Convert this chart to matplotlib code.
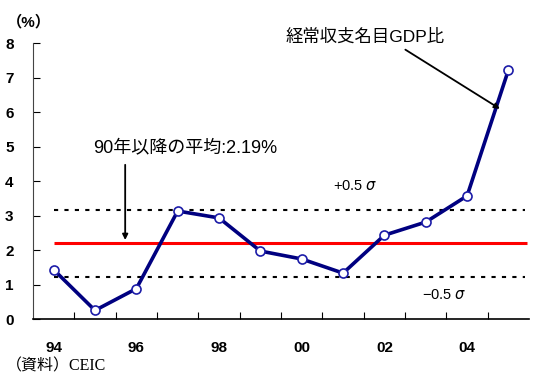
import matplotlib.pyplot as plt
import numpy as np

plt.rcParams['font.family'] = ['Liberation Sans', 'Noto Sans CJK JP', 'DejaVu Sans']

years = ['94', '95', '96', '97', '98', '99', '00', '01', '02', '03', '04', '05']
ratio = [1.43, 0.25, 0.88, 3.13, 2.93, 1.97, 1.74, 1.33, 2.43, 2.81, 3.57, 7.22]
mean = 2.19
half_sigma = 0.97

fig = plt.figure(figsize=(5.47, 3.74), dpi=100)
ax = fig.add_axes([0.0603, 0.147, 0.907, 0.738])

x = np.arange(len(years))

ax.hlines(mean, 0, 11.45, color='#ff0000', lw=2.2, zorder=2)
ax.hlines([mean + half_sigma, mean - half_sigma], 0, 11.4, color='black',
          lw=1.5, linestyles=(0, (2, 3)), zorder=2)

ax.plot(x, ratio, color='#000080', lw=2.6, marker='o', ms=6.5,
        mfc='white', mec='#1c1ca8', mew=1.2, zorder=3)

ax.set_xlim(-0.5, 11.5)
ax.set_ylim(0, 8)
ax.spines['top'].set_visible(False)
ax.spines['right'].set_visible(False)
ax.spines['left'].set_color('#444444')
ax.spines['bottom'].set_color('black')
ax.spines['bottom'].set_linewidth(1.2)

ax.set_xticks(np.arange(0.5, 11, 1))
ax.set_xticklabels([])
ax.tick_params(axis='x', which='major', direction='in', length=5, color='black')
ax.set_xticks(x[::2], minor=True)
ax.set_xticklabels(years[::2], minor=True, weight='bold')
ax.tick_params(axis='x', which='minor', length=0, pad=16, labelsize=11)

ax.set_yticks(range(0, 9))
ax.set_yticklabels([str(v) for v in range(0, 9)], weight='bold')
ax.tick_params(axis='y', direction='in', length=5, pad=14, labelsize=11)

fig.text(0.012, 0.94, '（%）', fontsize=11, ha='left', va='center', weight='bold')

ax.annotate('', xy=(1.73, mean + 0.02), xytext=(1.73, 4.55),
            arrowprops=dict(arrowstyle='-|>', color='black', lw=1.3,
                            mutation_scale=8))
ax.text(0.95, 4.95, '90年以降の平均:2.19%', fontsize=13, ha='left', va='center')

ax.annotate('', xy=(10.85, 6.05), xytext=(8.45, 7.85),
            arrowprops=dict(arrowstyle='-|>', color='black', lw=1.3,
                            mutation_scale=8))
ax.text(5.6, 8.2, '経常収支名目GDP比', fontsize=12.5, ha='left', va='center',
        clip_on=False)

ax.text(6.75, 3.85, '+0.5 $\\sigma$', fontsize=10.5, ha='left', va='center')
ax.text(8.9, 0.7, '\u22120.5 $\\sigma$', fontsize=10.5, ha='left', va='center')

fig.text(0.01, 0.0, '（資料）CEIC', fontsize=11.5, ha='left', va='bottom',
         family=['Liberation Serif', 'Noto Sans CJK JP', 'DejaVu Sans'])

fig.savefig('out.png', dpi=100)
